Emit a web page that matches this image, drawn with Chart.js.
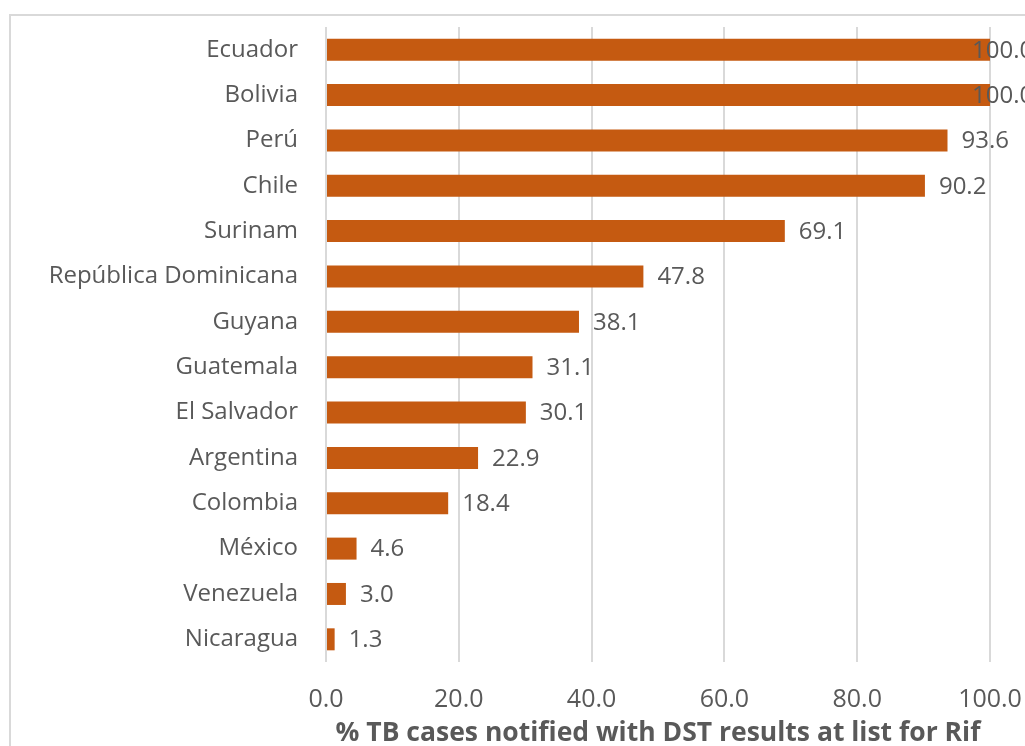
<!DOCTYPE html>
<html>
<head>
<meta charset="utf-8">
<script src="https://cdn.jsdelivr.net/npm/chart.js@4/dist/chart.umd.min.js"></script>
<style>
  html, body { margin: 0; padding: 0; background: #fff; overflow: hidden; }
  #frame {
    position: absolute; left: 9px; top: 14px;
    width: 1100px; height: 800px;
    border: 2px solid #d9d9d9; box-sizing: border-box;
  }
  #wrap { position: absolute; left: 0; top: 0; width: 1025px; height: 746px; }
</style>
</head>
<body>
<div id="frame"></div>
<div id="wrap"><canvas id="chart" width="1025" height="746"></canvas></div>
<script>
const countries = [
  "Ecuador", "Bolivia", "Perú", "Chile", "Surinam", "República Dominicana",
  "Guyana", "Guatemala", "El Salvador", "Argentina", "Colombia", "México",
  "Venezuela", "Nicaragua"
];
const pctRif = [100.0, 100.0, 93.6, 90.2, 69.1, 47.8, 38.1, 31.1, 30.1, 22.9, 18.4, 4.6, 3.0, 1.3];
const xTicks = [0, 20, 40, 60, 80, 100];

const TEXT = "#595959";
const FONT = "'Open Sans', 'Noto Sans', sans-serif";

// drop the automatic label overhang so the plot area is set by layout.padding only
const noOverhang = s => {
  s.paddingTop = 0; s.paddingBottom = 0; s.paddingLeft = 0; s.paddingRight = 0;
};

// value labels to the right of each bar
const barValues = {
  id: "barValues",
  afterDatasetsDraw(chart) {
    const ctx = chart.ctx;
    const meta = chart.getDatasetMeta(0);
    const right = chart.chartArea.right;
    ctx.save();
    ctx.font = "24px " + FONT;
    ctx.fillStyle = TEXT;
    ctx.textBaseline = "middle";
    ctx.textAlign = "left";
    meta.data.forEach((bar, i) => {
      const x = Math.min(bar.x + 14, right - 18);
      ctx.fillText(pctRif[i].toFixed(1), x, bar.y + 1);
    });
    ctx.restore();
  }
};

new Chart(document.getElementById("chart"), {
  type: "bar",
  data: {
    labels: countries,
    datasets: [{
      data: pctRif,
      backgroundColor: "#c55a11",
      borderWidth: 0,
      barPercentage: 1,
      categoryPercentage: 0.485
    }]
  },
  options: {
    indexAxis: "y",
    responsive: false,
    animation: false,
    layout: { padding: { top: 27, right: 35, left: 0, bottom: 0 } },
    plugins: {
      legend: { display: false },
      tooltip: { enabled: false }
    },
    scales: {
      x: {
        min: 0,
        max: 100,
        afterBuildTicks: s => { s.ticks = xTicks.map(v => ({ value: v })); },
        afterFit: s => { s.height = 84; noOverhang(s); },
        border: { display: false },
        grid: { color: "#d9d9d9", lineWidth: 2, drawTicks: false },
        ticks: {
          padding: 23,
          color: TEXT,
          font: { family: FONT, size: 25 },
          callback: v => Number(v).toFixed(1),
          maxRotation: 0
        },
        title: {
          display: true,
          text: "% TB cases notified with DST results at list for Rif",
          color: TEXT,
          font: { family: FONT, size: 26.5, weight: "bold" },
          padding: { top: 0, bottom: -3 }
        }
      },
      y: {
        afterFit: s => { s.width = 326; noOverhang(s); },
        border: { display: false },
        grid: { display: false, drawTicks: false },
        ticks: {
          padding: 28,
          color: TEXT,
          font: { family: FONT, size: 24 }
        }
      }
    }
  },
  plugins: [barValues]
});
</script>
</body>
</html>
